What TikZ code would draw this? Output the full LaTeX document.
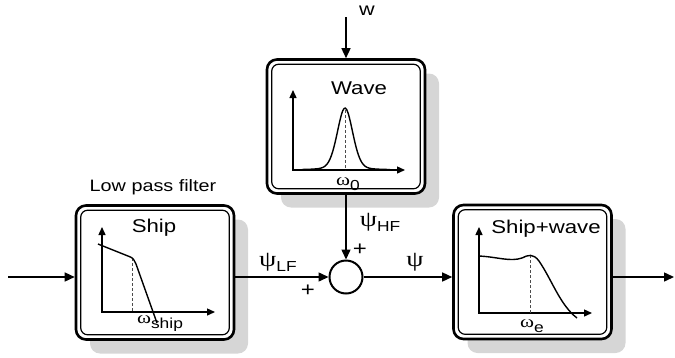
\documentclass[tikz,border=0pt]{standalone}
\usepackage{fontspec}
\setmainfont{Liberation Sans}[FakeStretch=1.2]
\newfontfamily\grk{Liberation Serif}[FakeStretch=1.25]
\usetikzlibrary{arrows.meta,shadows}

\newcommand\lowsub[1]{\raisebox{-5pt}{\fontsize{14.5}{15}\selectfont #1}}

\tikzset{
  blockbox/.style={draw, line width=2.6pt, rounded corners=10pt, fill=white,
    minimum width=158pt, minimum height=134pt,
    drop shadow={shadow xshift=14pt, shadow yshift=-14pt, fill=black!16, opacity=1}},
  innerline/.style={line width=1.2pt, rounded corners=7pt},
  sumnode/.style={draw, circle, line width=2pt, minimum size=33pt, inner sep=0pt},
  sig/.style={line width=1.5pt},
  axis/.style={line width=1.4pt, {Triangle[length=8pt,width=7pt]}-{Triangle[length=8pt,width=7pt]}},
  curve/.style={line width=1.4pt},
  guide/.style={densely dashed, gray!60!black, line width=0.8pt},
  lbl/.style={font=\fontsize{18.5}{20}\selectfont, inner sep=0pt},
  sgn/.style={font=\fontsize{22}{24}\selectfont, inner sep=0pt},
  freq/.style={font=\fontsize{17}{19}\selectfont, inner sep=0pt}
}

\begin{document}
\begin{tikzpicture}[x=1pt,y=-1pt,>={Triangle[length=10pt,width=9pt]}]
 \useasboundingbox (0,0) rectangle (675,357);
 % blocks
 \node[blockbox] (wave) at (346,126.5) {};
 \node[blockbox] (ship) at (155,272.5) {};
 \node[blockbox] (shipwave) at (532.5,272) {};
 \foreach \n in {wave,ship,shipwave}
  \draw[innerline] ([shift={(6,6)}]\n.north west) rectangle ([shift={(-6,-6)}]\n.south east);
 \node[sumnode] (sum) at (346,277) {};

 % block titles
 \node[lbl] (wavetitle) at (359,88) {Wave};
 \node[lbl] (shiptitle) at (154,228) {Ship};
 \node[lbl] (shipwavetitle) at (546,229) {Ship+wave};
 \node[font=\fontsize{16.5}{18}\selectfont, inner sep=0pt] (lpf) at (153,187) {Low pass filter};

 % wave spectrum
 \draw[axis] (293,90) |- (405,170);
 \draw[guide] (345,110) -- (345,170);
 \draw[curve, domain=302:390, samples=70, smooth, variable=\x]
   plot ({\x},{170-62*(0.8*exp(-((\x-345)/11)*((\x-345)/11))+0.2/(1+((\x-345)/9)*((\x-345)/9)))});
 \node[freq] (w0) at (348,184) {{\grk ω}\lowsub{0}};

 % ship spectrum
 \draw[axis] (102,227) |- (215,312);
 \draw[guide] (132,258) -- (132,312);
 \draw[curve] (98,244) -- (128,256) .. controls (133,258) .. (136,264) -- (157,323);
 \node[freq] (wship) at (160,324) {{\grk ω}\lowsub{ship}};

 % ship+wave spectrum
 \draw[axis] (479,227) |- (592,313);
 \draw[guide] (530,255) -- (530,313);
 \draw[curve] (479,256) .. controls (498,257) and (510,262) .. (522,258)
   .. controls (528,255) and (533,253) .. (539,261)
   .. controls (552,280) and (560,305) .. (577,318);
 \node[freq] (we) at (532,326) {{\grk ω}\lowsub{e}};

 % signals
 \coordinate (win) at (346,17);
 \coordinate (in) at (8,277);
 \coordinate (out) at (674,277);
 \draw[sig,->] (win) -- (wave.north);
 \draw[sig,->] (wave.south) -- (sum.north);
 \draw[sig,->] (in) -- (in -| ship.west);
 \draw[sig,->] (ship.east |- sum) -- (sum.west);
 \draw[sig,->] (sum.east) -- (sum -| shipwave.west);
 \draw[sig,->] (sum -| shipwave.east) -- (out);

 % signal labels
 \node[font=\fontsize{18}{19}\selectfont, inner sep=0pt] (wlbl) at (367,11) {w};
 \node[sgn] (psihf) at (380,222) {{\grk ψ}\lowsub{HF}};
 \node[sgn] (psilf) at (278,262) {{\grk ψ}\lowsub{LF}};
 \node[sgn] (psi) at (415,262) {{\grk ψ}};
 \node[font=\fontsize{20}{21}\selectfont, inner sep=0pt] (plustop) at (360,250) {+};
 \node[font=\fontsize{20}{21}\selectfont, inner sep=0pt] (plusleft) at (308,291) {+};
\end{tikzpicture}
\end{document}
